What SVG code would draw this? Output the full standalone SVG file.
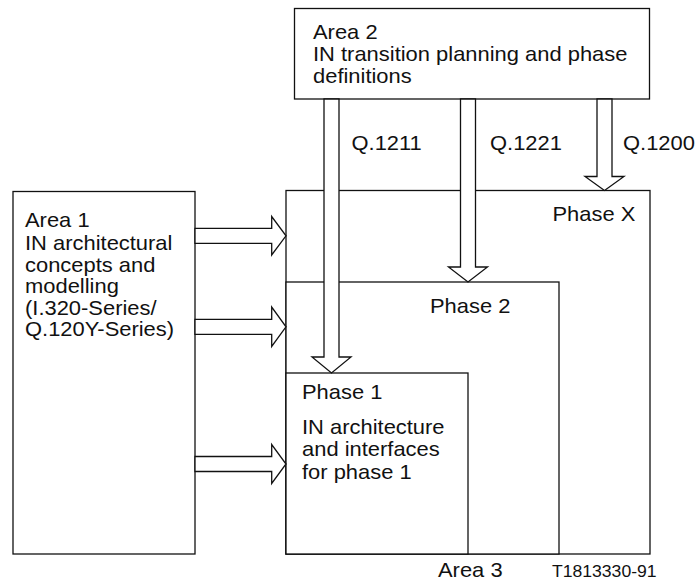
<svg xmlns="http://www.w3.org/2000/svg" width="698" height="582" viewBox="0 0 698 582">
  <style>
    .box { fill: #fff; stroke: #111; stroke-width: 1.3; }
    .arrow { fill: #fff; stroke: #111; stroke-width: 1.3; stroke-linejoin: miter; }
    .t { font-family: "Liberation Sans", Arial, sans-serif; font-size: 20.5px; fill: #111; }
    .small { font-family: "Liberation Sans", Arial, sans-serif; font-size: 16px; fill: #111; }
  </style>
  <rect width="698" height="582" fill="#fff"/>

  <!-- nested phase boxes (Area 3); labels are set slightly wide via scale(1.07,1) -->
  <g id="phase-x">
    <rect class="box" x="286" y="190.5" width="364" height="363.5"/>
    <text class="t" transform="translate(552.5,0) scale(1.07,1)" x="0" y="221.5">Phase X</text>
  </g>
  <g id="phase-2">
    <rect class="box" x="286" y="282" width="273" height="272"/>
    <text class="t" transform="translate(430,0) scale(1.07,1)" x="0" y="313">Phase 2</text>
  </g>
  <g id="phase-1">
    <rect class="box" x="286" y="373" width="182" height="181"/>
    <text class="t" transform="translate(302,0) scale(1.07,1)" x="0" y="399">Phase 1</text>
    <text class="t" transform="translate(302,0) scale(1.07,1)" x="0" y="434">IN architecture
      <tspan x="0" dy="22.5">and interfaces</tspan>
      <tspan x="0" dy="22.5">for phase 1</tspan>
    </text>
  </g>

  <!-- Area 1 -->
  <g id="area-1">
    <rect class="box" x="13" y="191.5" width="182" height="362.5"/>
    <text class="t" transform="translate(25,0) scale(1.07,1)" x="0" y="227">Area 1
      <tspan x="0" y="250">IN architectural</tspan>
      <tspan x="0" dy="21.6">concepts and</tspan>
      <tspan x="0" dy="21.6">modelling</tspan>
      <tspan x="0" dy="21.6">(I.320-Series/</tspan>
      <tspan x="0" dy="21.6">Q.120Y-Series)</tspan>
    </text>
  </g>

  <!-- Area 2 -->
  <g id="area-2">
    <rect class="box" x="294.5" y="8.5" width="355" height="90.5"/>
    <text class="t" transform="translate(313,0) scale(1.07,1)" x="0" y="39">Area 2
      <tspan x="0" dy="22">IN transition planning and phase</tspan>
      <tspan x="0" dy="22">definitions</tspan>
    </text>
  </g>

  <!-- block arrows between areas and phases -->
  <g id="connectors">
    <polygon class="arrow" points="324,99 339,99 339,357 351,357 331.5,373 312,357 324,357"/>
    <polygon class="arrow" points="460.5,99 475.5,99 475.5,267 487.5,267 468,282 448.5,267 460.5,267"/>
    <polygon class="arrow" points="597,99 612,99 612,176.5 624,176.5 604.5,190.5 585,176.5 597,176.5"/>

    <polygon class="arrow" points="195,228.3 271.7,228.3 271.7,216.5 286,235.8 271.7,255 271.7,243.3 195,243.3"/>
    <polygon class="arrow" points="195,319.3 271.7,319.3 271.7,307 286,326.8 271.7,346.5 271.7,334.3 195,334.3"/>
    <polygon class="arrow" points="195,456.5 271.7,456.5 271.7,444.5 286,464 271.7,483.5 271.7,471.5 195,471.5"/>

    <text class="t" transform="translate(351.5,0) scale(1.07,1)" x="0" y="150">Q.1211</text>
    <text class="t" transform="translate(490,0) scale(1.07,1)" x="0" y="150">Q.1221</text>
    <text class="t" transform="translate(623,0) scale(1.07,1)" x="0" y="150">Q.1200</text>
  </g>

  <!-- captions -->
  <text class="t" transform="translate(438,0) scale(1.07,1)" x="0" y="577">Area 3</text>
  <text class="small" transform="translate(552,0) scale(1.1,1)" x="0" y="577">T1813330-91</text>
</svg>
